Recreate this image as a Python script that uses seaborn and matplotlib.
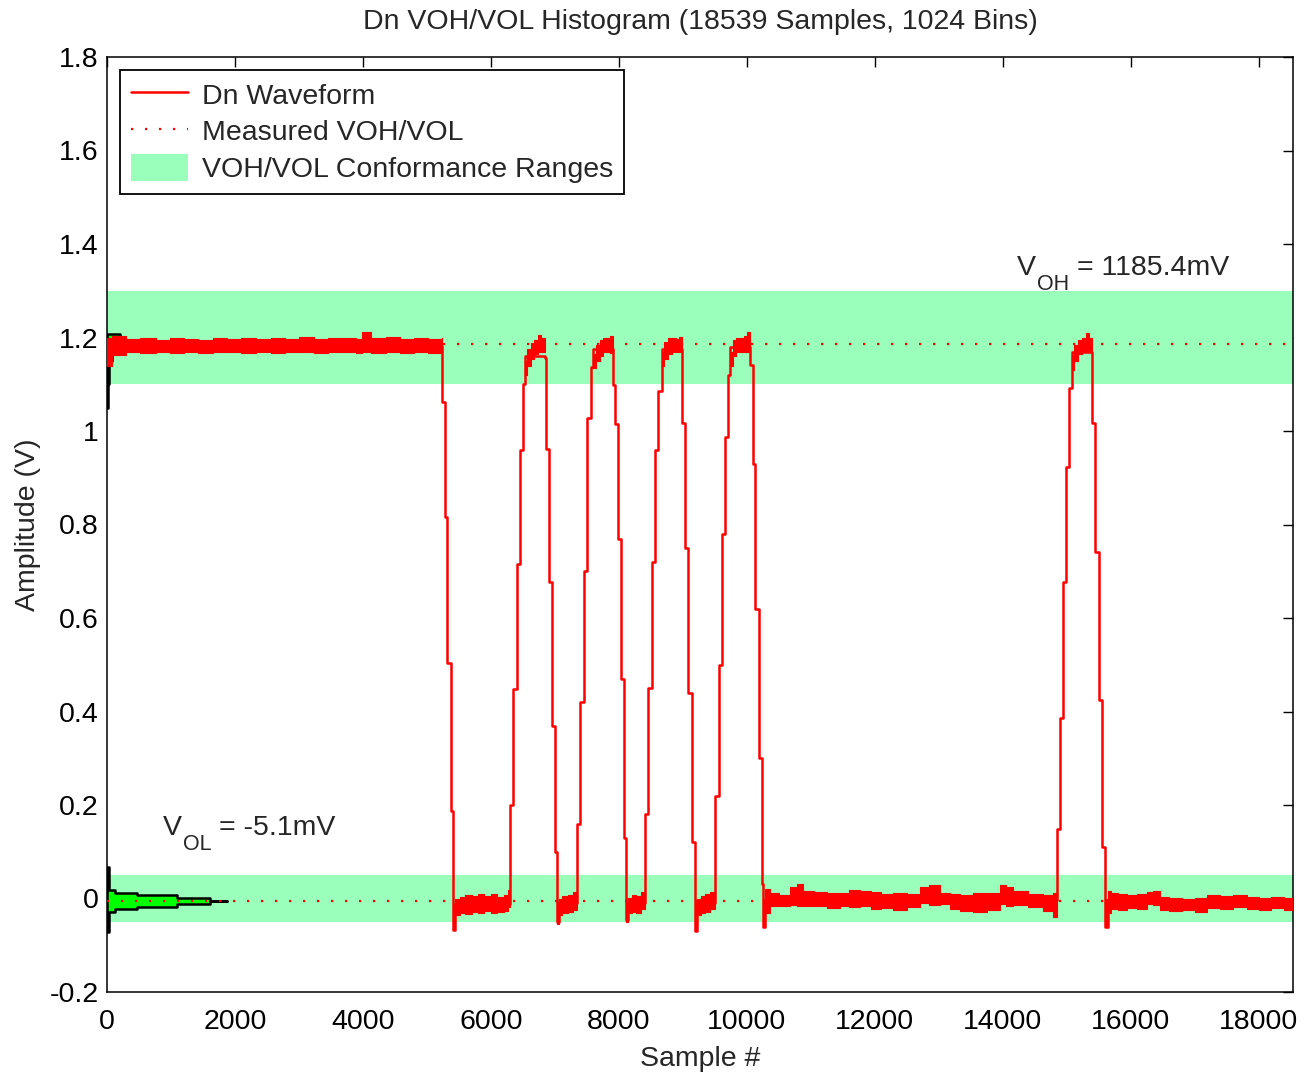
import numpy as np
import pandas as pd
import matplotlib
matplotlib.use("Agg")
import matplotlib.pyplot as plt
from matplotlib.lines import Line2D
from matplotlib.patches import Patch
from matplotlib.ticker import FuncFormatter
import seaborn as sns

# ---------------- data ----------------
title = "Dn VOH/VOL Histogram (18539 Samples, 1024 Bins)"
n_samples = 18539
voh = 1.1854
vol = -0.0051
voh_range = [1.10, 1.30]
vol_range = [-0.05, 0.05]

# waveform breakpoints (sample #, volts), held until next breakpoint
wave_x = [0, 5232, 5284, 5320, 5373, 5413, 5440,
          6300, 6351, 6405, 6456, 6498, 6534,
          6847, 6862, 6914, 6951, 7003, 7030, 7060,
          7347, 7399, 7452, 7503, 7561, 7602,
          7905, 7941, 7988, 8035, 8082, 8113, 8140,
          8410, 8462, 8515, 8566, 8618, 8671,
          8984, 9035, 9087, 9140, 9192, 9220,
          9504, 9559, 9614, 9661, 9700, 9739,
          10051, 10093, 10137, 10184, 10231, 10255, 10290,
          14850, 14897, 14944, 14991, 15038, 15084,
          15397, 15450, 15503, 15556, 15600, 15640, 18539]
wave_y = [1.182, 1.061, 0.816, 0.503, 0.187, -0.068, -0.012,
          0.199, 0.448, 0.715, 0.959, 1.100, 1.160,
          1.157, 0.961, 0.676, 0.370, 0.100, -0.050, -0.010,
          0.160, 0.420, 0.700, 1.028, 1.137, 1.175,
          1.098, 1.016, 0.770, 0.470, 0.130, -0.045, -0.010,
          0.180, 0.450, 0.720, 0.960, 1.085, 1.175,
          1.017, 0.750, 0.440, 0.120, -0.070, -0.010,
          0.220, 0.500, 0.780, 0.988, 1.120, 1.180,
          1.141, 0.930, 0.620, 0.300, 0.030, -0.060, -0.003,
          0.149, 0.386, 0.677, 0.922, 1.091, 1.170,
          1.018, 0.741, 0.425, 0.111, -0.062, -0.008, -0.008]

# noise envelope of the waveform on its flat parts (NaN separates segments)
nan = float("nan")
env_x = [0, 80, 300, 520, 760, 980, 1200, 1430, 1650, 1880, 2100, 2330, 2560, 2780,
         3000, 3230, 3460, 3680, 3900, 3990, 4130, 4360, 4580, 4800, 5020, 5232, 5232,
         5440, 5520, 5600, 5700, 5800, 5900, 6000, 6100, 6200, 6270, 6300, 6300,
         6534, 6570, 6620, 6680, 6740, 6790, 6847, 6847,
         7030, 7060, 7120, 7200, 7280, 7347, 7347,
         7602, 7640, 7700, 7760, 7820, 7870, 7905, 7905,
         8113, 8140, 8200, 8270, 8340, 8410, 8410,
         8671, 8710, 8770, 8830, 8890, 8940, 8984, 8984,
         9192, 9220, 9280, 9350, 9430, 9504, 9504,
         9739, 9780, 9840, 9900, 9960, 10010, 10051, 10051,
         10255, 10290, 10364, 10500, 10677, 10780, 10885, 11050, 11250, 11458, 11600,
         11771, 11950, 12100, 12292, 12500, 12709, 12850, 13021, 13180, 13334, 13542,
         13750, 13959, 14060, 14168, 14400, 14637, 14793, 14850, 14850,
         15084, 15120, 15180, 15240, 15300, 15350, 15397, 15397,
         15600, 15650, 15700, 15800, 15940, 16100, 16252, 16350, 16461, 16600, 16800,
         17000, 17190, 17400, 17600, 17815, 18000, 18200, 18400, 18539]
env_lo = [1.140, 1.163, 1.168, 1.166, 1.170, 1.167, 1.169, 1.166, 1.170, 1.168, 1.166, 1.169, 1.167, 1.170,
          1.168, 1.166, 1.169, 1.170, 1.167, 1.168, 1.166, 1.169, 1.167, 1.170, 1.166, 1.170, nan,
          -0.036, -0.030, -0.033, -0.028, -0.031, -0.027, -0.032, -0.029, -0.026, -0.018, -0.018, nan,
          1.120, 1.140, 1.155, 1.165, 1.170, 1.168, 1.168, nan,
          -0.055, -0.035, -0.030, -0.028, -0.024, -0.024, nan,
          1.135, 1.150, 1.160, 1.168, 1.170, 1.166, 1.166, nan,
          -0.050, -0.032, -0.028, -0.030, -0.022, -0.022, nan,
          1.140, 1.155, 1.165, 1.170, 1.168, 1.170, 1.170, nan,
          -0.070, -0.035, -0.030, -0.028, -0.022, -0.022, nan,
          1.140, 1.160, 1.168, 1.170, 1.168, 1.170, 1.170, nan,
          -0.060, -0.030, -0.016, -0.015, -0.014, -0.017, -0.015, -0.016, -0.021, -0.015, -0.019,
          -0.017, -0.022, -0.020, -0.024, -0.018, -0.010, -0.013, -0.012, -0.022, -0.026, -0.028,
          -0.025, -0.012, -0.015, -0.013, -0.018, -0.026, -0.040, -0.040, nan,
          1.130, 1.150, 1.165, 1.170, 1.168, 1.170, 1.170, nan,
          -0.062, -0.030, -0.022, -0.024, -0.020, -0.023, -0.011, -0.013, -0.024, -0.027, -0.025,
          -0.028, -0.020, -0.023, -0.019, -0.022, -0.025, -0.021, -0.024, -0.024]
env_hi = [1.200, 1.203, 1.196, 1.198, 1.195, 1.199, 1.197, 1.195, 1.200, 1.197, 1.198, 1.196, 1.199, 1.197,
          1.201, 1.196, 1.198, 1.200, 1.197, 1.212, 1.198, 1.201, 1.197, 1.199, 1.196, 1.198, nan,
          0.000, 0.004, 0.008, 0.005, 0.009, 0.006, 0.010, 0.004, 0.007, 0.018, 0.018, nan,
          1.150, 1.175, 1.188, 1.195, 1.205, 1.198, 1.198, nan,
          -0.015, 0.000, 0.006, 0.008, 0.014, 0.014, nan,
          1.165, 1.185, 1.195, 1.200, 1.198, 1.203, 1.203, nan,
          -0.010, 0.002, 0.007, 0.005, 0.013, 0.013, nan,
          1.170, 1.190, 1.198, 1.200, 1.197, 1.201, 1.201, nan,
          -0.015, 0.000, 0.006, 0.009, 0.014, 0.014, nan,
          1.170, 1.195, 1.200, 1.198, 1.203, 1.212, 1.212, nan,
          0.000, 0.021, 0.012, 0.008, 0.024, 0.030, 0.016, 0.014, 0.012, 0.011, 0.018,
          0.017, 0.014, 0.010, 0.011, 0.009, 0.024, 0.028, 0.012, 0.009, 0.008, 0.012,
          0.011, 0.028, 0.024, 0.015, 0.010, 0.008, 0.012, 0.012, nan,
          1.160, 1.185, 1.195, 1.200, 1.210, 1.200, 1.200, nan,
          0.000, 0.016, 0.012, 0.010, 0.007, 0.009, 0.014, 0.016, 0.004, 0.001, -0.002,
          0.002, 0.007, 0.005, 0.008, 0.003, 0.001, 0.004, 0.002, 0.002]

# histogram (bin edges in V, counts per band)
low_hist_edges = [-0.072, -0.0295, -0.0235, -0.0182, -0.0124, -0.0062, -0.0045, 0.0003, 0.0075, 0.0127, 0.0185, 0.068]
low_hist_counts = [25, 125, 464, 1090, 1610, 1870, 1610, 1090, 464, 125, 25]
high_hist_edges = [1.050, 1.100, 1.150, 1.165, 1.175, 1.190, 1.200, 1.208]
high_hist_counts = [20, 35, 80, 150, 200, 230, 200]

x_ticks = [0, 2000, 4000, 6000, 8000, 10000, 12000, 14000, 16000, 18000]
y_ticks = [-0.2, 0, 0.2, 0.4, 0.6, 0.8, 1.0, 1.2, 1.4, 1.6, 1.8]

# ---------------- style ----------------
sns.set_style("white")
plt.rcParams["font.family"] = ["Liberation Sans", "DejaVu Sans"]
FS = 20.5
SUB = 15.5
RED = "#ff0000"
BAND = "#99ffbb"

fig = plt.figure(figsize=(13.06, 10.74), dpi=100)
ax = fig.add_axes([107 / 1306, 1 - 992 / 1074, (1293 - 107) / 1306, (992 - 57) / 1074])

# conformance bands
ax.axhspan(voh_range[0], voh_range[1], color=BAND, lw=0, zorder=1)
ax.axhspan(vol_range[0], vol_range[1], color=BAND, lw=0, zorder=1)

# histograms
for edges, counts in [(low_hist_edges, low_hist_counts), (high_hist_edges, high_hist_counts)]:
    ax.fill_betweenx(edges, 0, list(counts) + [0], step="post", facecolor="#00ff00",
                     edgecolor="black", lw=1.8, zorder=2)

# measured levels
dot_style = (0, (1, 5.3))
ax.axhline(voh, color=RED, lw=1.6, ls=dot_style, zorder=3)
ax.axhline(vol, color=RED, lw=1.6, ls=dot_style, zorder=3)

# waveform
df = pd.DataFrame({"Sample": wave_x, "Amplitude": wave_y})
sns.lineplot(data=df, x="Sample", y="Amplitude", ax=ax, color=RED, lw=1.8,
             drawstyle="steps-post", estimator=None, sort=False, zorder=4)
ax.fill_between(np.array(env_x, float), np.array(env_lo, float), np.array(env_hi, float),
                step="post", color=RED, lw=0.8, zorder=4)

# axes
ax.set_xlim(0, n_samples)
ax.set_ylim(-0.2, 1.8)
ax.set_xticks(x_ticks)
ax.set_yticks(y_ticks)
fmt = FuncFormatter(lambda v, p: f"{v:g}")
ax.xaxis.set_major_formatter(fmt)
ax.yaxis.set_major_formatter(fmt)
ax.tick_params(direction="in", top=True, right=True, length=7, width=1,
               labelsize=FS, colors="black")
ax.tick_params(axis="x", pad=12.5)
ax.tick_params(axis="y", pad=6)
for s in ax.spines.values():
    s.set_visible(True)
    s.set_color("black")
    s.set_linewidth(1.1)

ax.set_xlabel("Sample #", fontsize=FS, labelpad=8)
ax.set_ylabel("Amplitude (V)", fontsize=FS, labelpad=6)
ax.set_title(title, fontsize=FS, pad=20)


def level_label(x, y, sub, rest, dx_sub, dx_rest):
    ax.annotate("V", (x, y), xytext=(0, 0), textcoords="offset points",
                fontsize=FS, ha="left", va="baseline", zorder=6)
    ax.annotate(sub, (x, y), xytext=(dx_sub, -10.8), textcoords="offset points",
                fontsize=SUB, ha="left", va="baseline", zorder=6)
    ax.annotate(rest, (x, y), xytext=(dx_rest, 0), textcoords="offset points",
                fontsize=FS, ha="left", va="baseline", zorder=6)


level_label(14225, 1.334, "OH", "= 1185.4mV", 14.4, 43.5)
level_label(875, 0.136, "OL", "= -5.1mV", 14.4, 40.5)

# legend
handles = [Line2D([], [], color=RED, lw=1.8),
           Line2D([], [], color=RED, lw=1.6, ls=dot_style),
           Patch(facecolor=BAND, edgecolor="none")]
labels = ["Dn Waveform", "Measured VOH/VOL", "VOH/VOL Conformance Ranges"]
leg = ax.legend(handles, labels, loc="upper left", fontsize=FS, frameon=True, fancybox=False,
                framealpha=1, edgecolor="black", borderaxespad=0.45, handlelength=2.0,
                handleheight=1.1, handletextpad=0.5, labelspacing=0.25, borderpad=0.38)
leg.get_frame().set_linewidth(1.3)
leg.set_zorder(10)

fig.savefig("out.png", dpi=100)
